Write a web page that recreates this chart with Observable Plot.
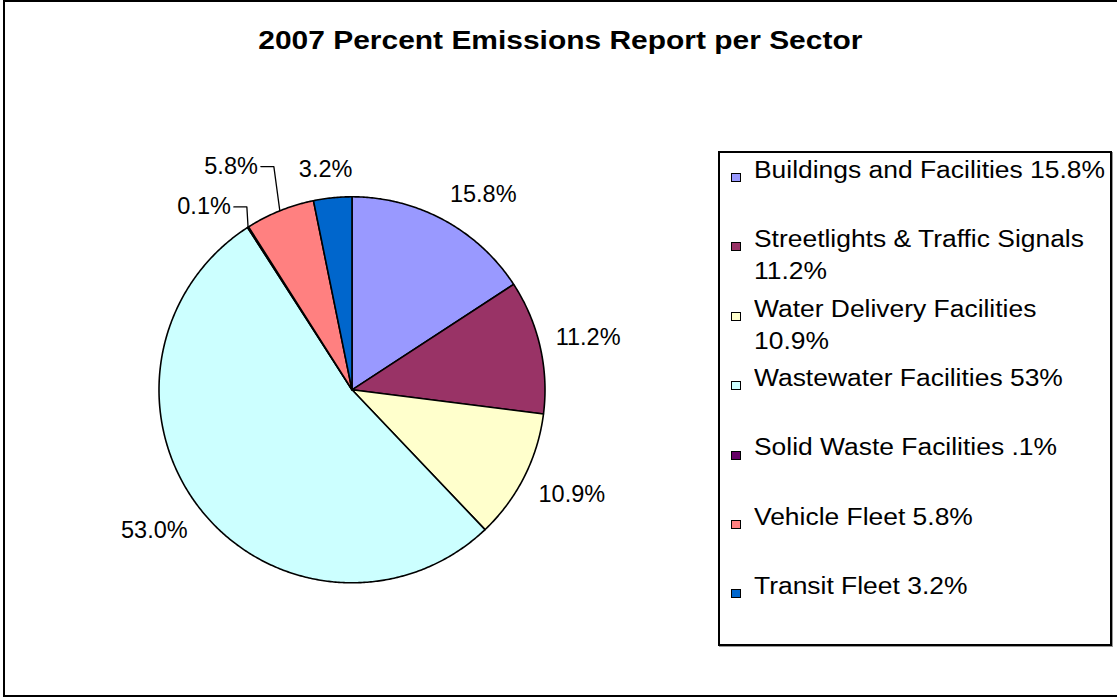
<!DOCTYPE html>
<html>
<head>
<meta charset="utf-8">
<script src="https://cdn.jsdelivr.net/npm/d3@7"></script>
<script src="https://cdn.jsdelivr.net/npm/@observablehq/plot@0.6"></script>
<style>
html,body{margin:0;padding:0;background:#fff;}
#page{position:relative;width:1117px;height:697px;overflow:hidden;font-family:"Liberation Sans",Arial,sans-serif;color:#000;}
#frame{position:absolute;left:3px;top:0;width:1130px;height:697px;border:2px solid #000;box-sizing:border-box;}
#title{position:absolute;left:0;width:1120px;top:26.6px;text-align:center;font-weight:bold;font-size:26.5px;line-height:26.5px;white-space:nowrap;}
#title span{display:inline-block;transform-origin:center;}
#chart{position:absolute;left:0;top:0;}
#legend{position:absolute;left:718px;top:151px;width:394px;height:495px;border:2px solid #000;box-sizing:border-box;box-shadow:1px 1px 0 #999;}
.item{position:absolute;left:754px;font-size:23.5px;line-height:32px;white-space:pre;transform-origin:left top;}
.sw{position:absolute;left:731px;width:10px;height:9px;border:1.5px solid #000;box-sizing:border-box;}
</style>
</head>
<body>
<div id="page">
  <div id="frame"></div>
  <div id="legend"></div>
  <div id="chart"></div>
  <div id="title"><span></span></div>
</div>
<script>
// ---- data ----
const title = "2007 Percent Emissions Report per Sector";
const sectors = [
  "Buildings and Facilities",
  "Streetlights & Traffic Signals",
  "Water Delivery Facilities",
  "Wastewater Facilities",
  "Solid Waste Facilities",
  "Vehicle Fleet",
  "Transit Fleet"
];
const percents = [15.8, 11.2, 10.9, 53.0, 0.1, 5.8, 3.2];
const colors = ["#9999FF", "#993366", "#FFFFCC", "#CCFFFF", "#660066", "#FF8080", "#0066CC"];
const legendLabels = [
  "Buildings and Facilities 15.8%",
  "Streetlights & Traffic Signals\n11.2%",
  "Water Delivery Facilities\n10.9%",
  "Wastewater Facilities 53%",
  "Solid Waste Facilities .1%",
  "Vehicle Fleet 5.8%",
  "Transit Fleet 3.2%"
];

// ---- layout ----
const page = document.getElementById("page");
const FONT = "'Liberation Sans', Arial, sans-serif";
const cx = 351.5, cy = 389.3, R = 193;
const labelSize = 23.5;
const ctx = document.createElement("canvas").getContext("2d");
function textWidth(t, font) { ctx.font = font; return ctx.measureText(t).width; }

// title
const titleSpan = document.querySelector("#title span");
titleSpan.textContent = title;
titleSpan.style.transform = `scaleX(${604 / textWidth(title, "bold 26.5px " + FONT)})`;

// legend
const legendFont = "23.5px " + FONT;
const legendScale = 351 / textWidth(legendLabels[0], legendFont);
legendLabels.forEach((lab, i) => {
  const baseline = 178 + i * 69.4;
  const div = document.createElement("div");
  div.className = "item";
  div.textContent = lab;
  div.style.top = (baseline - 24.14) + "px";
  div.style.transform = `scaleX(${legendScale})`;
  page.appendChild(div);
  const sw = document.createElement("div");
  sw.className = "sw";
  sw.style.background = colors[i];
  sw.style.top = (baseline - 5) + "px";
  page.appendChild(sw);
});

// pie geometry (angles from 12 o'clock, clockwise)
const arcs = d3.pie().sort(null).value(d => d)(percents);
const poly = [];
arcs.forEach((p, i) => {
  const name = sectors[i];
  poly.push({name, x: 0, y: 0});
  const n = Math.max(2, Math.ceil((p.endAngle - p.startAngle) / (Math.PI / 360)));
  for (let k = 0; k <= n; k++) {
    const a = p.startAngle + (p.endAngle - p.startAngle) * k / n;
    poly.push({name, x: Math.sin(a), y: Math.cos(a)});
  }
  poly.push({name, x: 0, y: 0});
});

// labels
const fmt = d3.format(".1f");
const gap = 16, lh = 24;
const clamp = v => Math.max(-1, Math.min(1, v));
function place(L, a, r) {
  const s = Math.sin(a), c = Math.cos(a);
  L.px = cx + r * s + L.w / 2 * clamp(2 * s);
  L.py = cy - r * c - lh / 2 * clamp(2 * c);
}
const labels = arcs.map((p, i) => {
  const a = (p.startAngle + p.endAngle) / 2;
  const text = fmt(percents[i]) + "%";
  const w = textWidth(text, labelSize + "px " + FONT);
  const L = {name: sectors[i], value: percents[i], text, w, a, s: Math.sin(a), c: Math.cos(a)};
  place(L, a, R + gap);
  L.px0 = L.px; L.py0 = L.py;
  return L;
});
// resolve collisions going counterclockwise from 12 o'clock
const order = labels.slice().sort((u, v) => v.a - u.a);
const margin = 40, vmargin = 16;
function collides(L, P) {
  const xOv = L.px + L.w / 2 + margin > P.px - P.w / 2 && L.px - L.w / 2 < P.px + P.w / 2 + margin;
  const yOv = L.py - lh / 2 < P.py + lh / 2 + vmargin && L.py + lh / 2 + vmargin > P.py - lh / 2;
  return xOv && yOv;
}
for (let k = 1; k < order.length; k++) {
  const L = order[k], P = order[k - 1];
  if (collides(L, P)) {
    const r = R + gap + lh * Math.min(1, L.value / 5);
    let a = L.a;
    place(L, a, r);
    while (collides(L, P) && a > L.a - Math.PI / 2) { a -= Math.PI / 720; place(L, a, r); }
  }
}
const toX = px => (px - cx) / R, toY = py => (cy - py) / R;
const leaders = [];
labels.forEach(L => {
  if (Math.abs(L.px - L.px0) + Math.abs(L.py - L.py0) > 1) {
    const ex = cx + R * L.s, ey = cy - R * L.c;
    const sx = L.px + L.w / 2 + 3;
    const bx = Math.min(sx + 13, ex);
    leaders.push({name: L.name, x: toX(sx), y: toY(L.py)});
    leaders.push({name: L.name, x: toX(bx), y: toY(L.py)});
    leaders.push({name: L.name, x: toX(ex), y: toY(ey)});
  }
});

const chart = Plot.plot({
  width: 700,
  height: 697,
  margin: 0,
  x: {domain: [-1, 1], range: [cx - R, cx + R], axis: null},
  y: {domain: [-1, 1], range: [cy + R, cy - R], axis: null},
  color: {type: "ordinal", domain: sectors, range: colors},
  style: {background: "transparent", overflow: "visible"},
  marks: [
    Plot.line(poly, {x: "x", y: "y", z: "name", fill: "name", stroke: "#000", strokeWidth: 1.6, strokeLinejoin: "round", curve: "linear"}),
    Plot.line(leaders, {x: "x", y: "y", z: "name", stroke: "#000", strokeWidth: 1.3, curve: "linear"}),
    Plot.text(labels, {x: d => toX(d.px), y: d => toY(d.py), text: "text", fontSize: labelSize, fontFamily: FONT, textAnchor: "middle", lineAnchor: "middle", fill: "#000"})
  ]
});
document.getElementById("chart").appendChild(chart);
</script>
</body>
</html>
